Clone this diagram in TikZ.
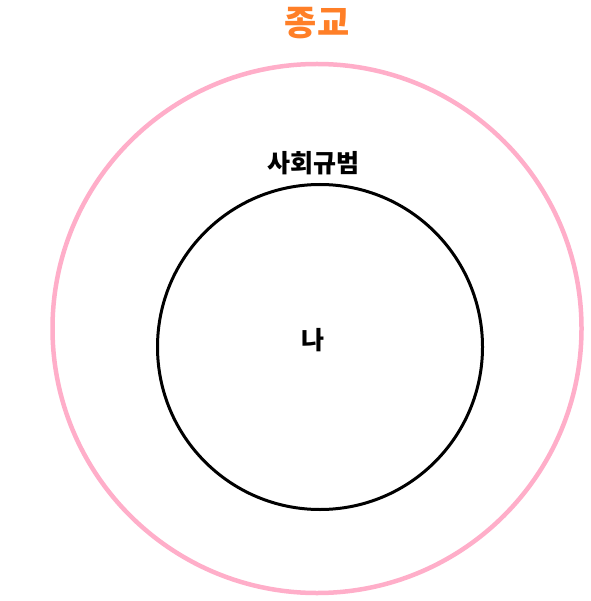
\documentclass[tikz,border=0pt]{standalone}
\usepackage{fontspec}
\newfontfamily\krfont{Noto Sans CJK KR}
\definecolor{paintpink}{HTML}{FFAEC9}
\definecolor{paintorange}{HTML}{FF7F27}
\begin{document}
\begin{tikzpicture}[
    x=1pt, y=-1pt,
    ring/.style={circle, draw=#1, fill=none, inner sep=0pt},
    label/.style={inner sep=0pt, font=\krfont\bfseries}
]
    \useasboundingbox (0,0) rectangle (590,601);
    \node[ring=paintpink, line width=4.5pt, minimum size=529pt] (religion) at (317,328.5) {};
    \node[ring=black, line width=3pt, minimum size=325pt] (norm) at (320,347) {};
    \node[label, text=paintorange, font=\krfont\bfseries\fontsize{35}{35}\selectfont] (religiontext) at (317,23) {종교};
    \node[label, font=\krfont\bfseries\fontsize{25}{25}\selectfont] (normtext) at (313,163) {사회규범};
    \node[label, font=\krfont\bfseries\fontsize{25}{25}\selectfont] (me) at (313,340) {나};
\end{tikzpicture}
\end{document}
